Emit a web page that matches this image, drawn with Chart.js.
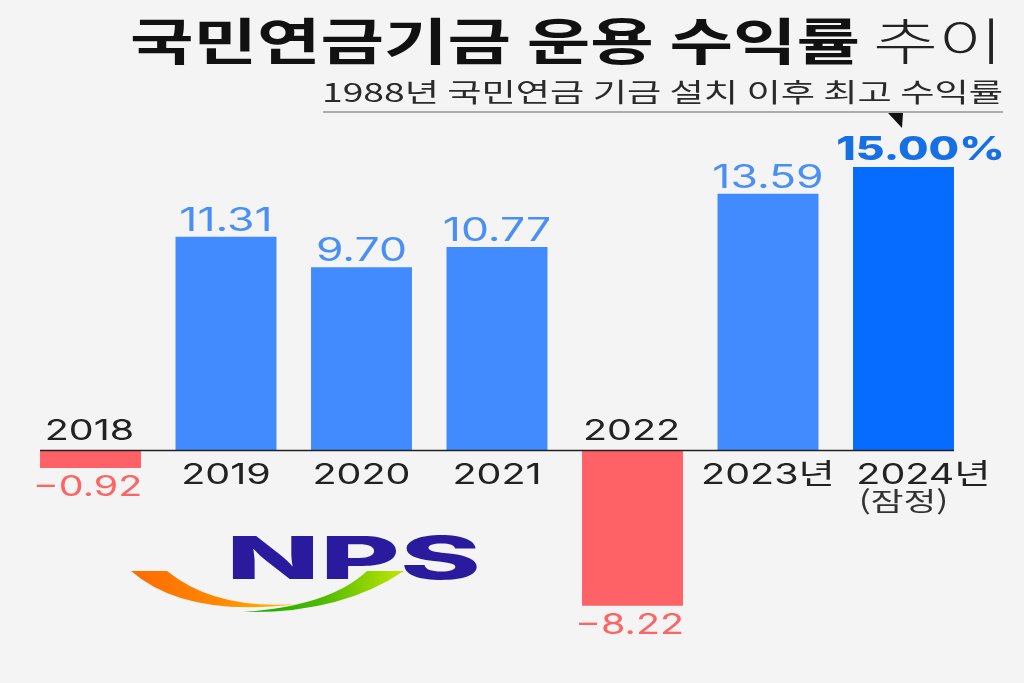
<!DOCTYPE html>
<html lang="ko"><head><meta charset="utf-8">
<style>html,body{margin:0;padding:0;background:#f4f4f4;overflow:hidden}canvas{display:block}</style>
<script src="https://cdn.jsdelivr.net/npm/chart.js@4/dist/chart.umd.min.js"></script>
</head><body><canvas id="c" width="1024" height="683"></canvas>
<script>
const categories = ["2018","2019","2020","2021","2022","2023년","2024년"];
const returns = [-0.92,11.31,9.70,10.77,-8.22,13.59,15.00];
const valueLabels = ["−0.92","11.31","9.70","10.77","−8.22","13.59","15.00%"];
const titleMain = "국민연금기금 운용 수익률";
const titleLight = "추이";
const subtitle = "1988년 국민연금 기금 설치 이후 최고 수익률";
const provisional = "(잠정)";
const logoText = "NPS";

const BLUE="#428bff", DEEP="#066cff", RED="#ff6266";
const NUM="Inter, 'Noto Sans CJK KR', sans-serif";
const KR="'Noto Sans CJK KR', sans-serif";

function stretched(ctx,text,x,y,font,color,sx,align){
  ctx.save();ctx.font=font;ctx.fillStyle=color;ctx.textBaseline="alphabetic";
  ctx.textAlign=align||"center";ctx.translate(x,y);ctx.scale(sx,1);ctx.fillText(text,0,0);ctx.restore();
}
function fitted(ctx,text,left,right,y,font,color){
  ctx.save();ctx.font=font;ctx.fillStyle=color;ctx.textBaseline="alphabetic";ctx.textAlign="left";
  const w=ctx.measureText(text).width;ctx.translate(left,y);ctx.scale((right-left)/w,1);ctx.fillText(text,0,0);ctx.restore();
}
const overlay={id:"overlay",afterDatasetsDraw(chart){
  const ctx=chart.ctx,bars=chart.getDatasetMeta(0).data,y0=chart.scales.y.getPixelForValue(0);
  // axis line
  ctx.save();ctx.strokeStyle="#222";ctx.lineWidth=1.5;ctx.beginPath();
  ctx.moveTo(bars[0].x-bars[0].width/2,y0);ctx.lineTo(bars[6].x+bars[6].width/2,y0);ctx.stroke();ctx.restore();
  bars.forEach((b,i)=>{
    const neg=returns[i]<0,last=i===bars.length-1;
    // category
    const catY=neg?y0-11:y0+33, shift=last?20:(neg?-1:0);
    stretched(ctx,categories[i],b.x+shift,catY,"400 28px "+NUM,"#222",1.41);
    // value
    if(last) stretched(ctx,valueLabels[i],b.x+17,b.y-7,"800 33px "+NUM,"#1670e4",1.34);
    else if(neg) stretched(ctx,valueLabels[i],b.x-3,b.y+28,"400 28px "+NUM,"#ff6363",1.41);
    else stretched(ctx,valueLabels[i],b.x,b.y-6,"400 32px "+NUM,"#4a8ff5",1.39);
  });
  stretched(ctx,provisional,bars[6].x,y0+60,"400 26px "+KR,"#333",1.37);
  // titles
  fitted(ctx,titleMain,130,860,60,"700 50px "+KR,"#111");
  fitted(ctx,titleLight,873,1003,60,"300 50px "+KR,"#222");
  fitted(ctx,subtitle,322,1003,102,"400 26px "+KR,"#2a2a2a");
  ctx.save();ctx.strokeStyle="#666";ctx.lineWidth=1;ctx.beginPath();ctx.moveTo(323,112);ctx.lineTo(1003,112);ctx.stroke();
  ctx.fillStyle="#111";ctx.beginPath();ctx.moveTo(888,113);ctx.lineTo(903,113);ctx.lineTo(902,128);ctx.closePath();ctx.fill();ctx.restore();
  // logo
  fitted(ctx,logoText,226,481,579,"800 59px "+NUM,"#2a1a9e");
  ctx.save();
  let g=ctx.createLinearGradient(131,0,297,0);g.addColorStop(0,"#ff6a00");g.addColorStop(.55,"#ff8a00");g.addColorStop(1,"#ffc400");
  ctx.fillStyle=g;ctx.beginPath();ctx.moveTo(131,571);ctx.lineTo(167,571);
  ctx.quadraticCurveTo(215,610,297,604);ctx.quadraticCurveTo(185,618,131,571);ctx.closePath();ctx.fill();
  g=ctx.createLinearGradient(243,0,404,0);g.addColorStop(0,"#0aa800");g.addColorStop(.5,"#50bb00");g.addColorStop(1,"#c4e600");
  ctx.fillStyle=g;ctx.beginPath();ctx.moveTo(243,612);ctx.quadraticCurveTo(330,606,367,571);ctx.lineTo(404,571);
  ctx.quadraticCurveTo(340,614,243,612);ctx.closePath();ctx.fill();ctx.restore();
}};
new Chart(document.getElementById("c"),{
  type:"bar",
  data:{labels:categories,datasets:[{data:returns,
    backgroundColor:returns.map((v,i)=>v<0?RED:(i===returns.length-1?DEEP:BLUE)),
    borderWidth:0,barPercentage:0.745,categoryPercentage:1}]},
  options:{responsive:false,animation:false,devicePixelRatio:1,
    layout:{padding:{left:22.75,right:52.75,top:72.5,bottom:5.7}},
    plugins:{legend:{display:false},tooltip:{enabled:false},title:{display:false}},
    scales:{x:{display:false},y:{display:false,min:-12,max:20}}},
  plugins:[{id:"bg",beforeDraw(c){c.ctx.save();c.ctx.fillStyle="#f4f4f4";c.ctx.fillRect(0,0,c.width,c.height);c.ctx.restore();}},overlay]
});
</script></body></html>
